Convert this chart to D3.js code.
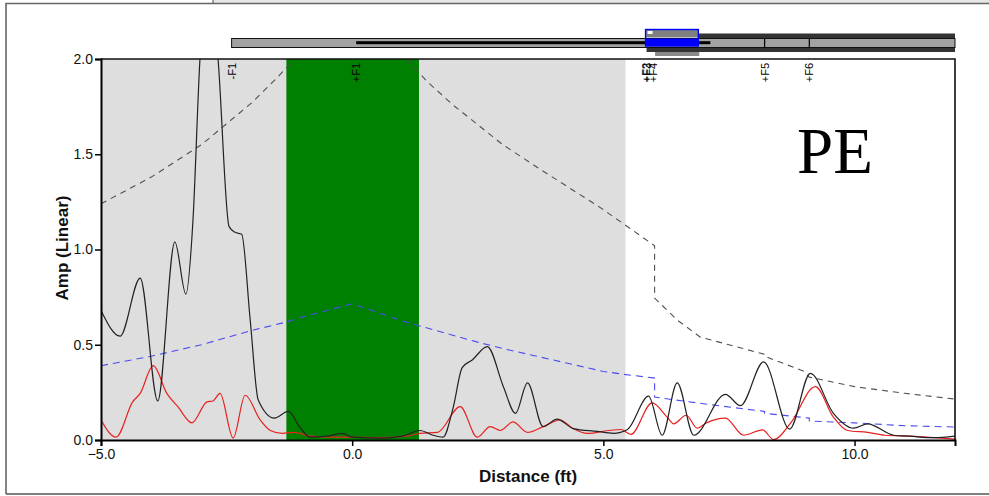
<!DOCTYPE html>
<html><head><meta charset="utf-8">
<script src="https://cdn.jsdelivr.net/npm/d3@7/dist/d3.min.js"></script>
<style>body{margin:0;background:#fff}svg{display:block}</style>
</head><body>
<svg id="c" width="989" height="496"></svg>
<script>
// ---- data ----
const xTicks = [-5, 0, 5, 10];
const yTicks = [0, 0.5, 1.0, 1.5, 2.0];
const grayZone = [-5, 5.44];
const greenZone = [-1.31, 1.33];
const markerNames = ["-F1", "+F1", "+F2", "+F3", "+F4", "+F5", "+F6"];
const markerPos   = [-2.40, 0.08, 5.84, 5.86, 5.98, 8.21, 9.10];

// upper envelope (gray dashed)
const envHiX = [-5.0,-4.0,-3.0,-2.0,-1.5,-1.0,-0.5,0.0,0.5,1.0,1.5,2.0,3.0,3.75,4.94,6.02,6.02,6.47,6.93,7.5,8.21,8.21,9.0,9.10,10.0,11.0,12.0];
const envHiY = [1.24,1.38,1.55,1.77,1.90,2.04,2.15,2.22,2.15,2.02,1.88,1.76,1.55,1.42,1.22,1.02,0.745,0.63,0.54,0.50,0.45,0.44,0.36,0.33,0.28,0.245,0.215];
// lower envelope (blue dashed)
const envLoX = [-5.0,-4.0,-3.0,-2.0,-1.3,-1.0,0.0,1.0,1.33,2.0,2.55,3.0,4.0,5.0,5.4,6.02,6.02,7.0,8.21,8.21,9.10,9.10,10.0,11.0,12.0];
const envLoY = [0.39,0.44,0.50,0.575,0.62,0.645,0.715,0.625,0.60,0.55,0.51,0.48,0.42,0.36,0.345,0.325,0.225,0.19,0.15,0.14,0.115,0.10,0.09,0.075,0.068];
// black signal
const sigAX = [-5.0,-4.62,-4.22,-3.87,-3.53,-3.31,-3.17,-3.03,-2.85,-2.67,-2.45,-2.33,-2.2,-2.03,-1.87,-1.55,-1.27,-1.05,-0.84,-0.5,-0.2,0.0,0.6,1.0,1.35,1.61,1.81,2.01,2.19,2.39,2.69,3.01,3.25,3.49,3.80,4.08,4.40,4.88,5.20,5.48,5.90,6.17,6.47,6.80,7.43,7.73,8.19,8.71,9.12,9.58,9.98,10.26,10.78,11.1,11.57,12.0];
const sigAY = [0.68,0.545,0.85,0.205,1.04,0.766,1.15,2.0,2.45,2.0,1.12,1.09,1.08,0.63,0.21,0.115,0.15,0.07,0.015,0.02,0.035,0.015,0.01,0.02,0.05,0.025,0.015,0.17,0.38,0.42,0.49,0.28,0.14,0.30,0.07,0.11,0.06,0.045,0.035,0.055,0.23,0.025,0.30,0.025,0.24,0.18,0.41,0.057,0.35,0.14,0.062,0.085,0.025,0.02,0.012,0.02];
// red signal
const sigBX = [-5.0,-4.7,-4.37,-4.22,-3.96,-3.69,-3.47,-3.19,-2.89,-2.77,-2.63,-2.37,-2.13,-1.83,-1.63,-1.39,-1.15,-0.84,-0.4,0.0,0.5,1.1,1.35,1.7,2.15,2.49,2.75,2.95,3.2,3.49,3.8,4.14,4.4,4.68,5.1,5.35,5.55,5.97,6.27,6.4,6.65,6.87,7.05,7.43,7.79,8.17,8.39,8.73,9.22,9.58,9.86,10.26,10.6,11.1,11.6,12.0];
const sigBY = [0.105,0.015,0.20,0.245,0.39,0.245,0.175,0.09,0.20,0.205,0.245,0.01,0.235,0.105,0.05,0.035,0.04,0.02,0.015,0.015,0.012,0.02,0.035,0.04,0.175,0.015,0.07,0.05,0.095,0.04,0.07,0.105,0.06,0.035,0.05,0.055,0.03,0.195,0.12,0.085,0.13,0.062,0.09,0.115,0.025,0.053,0.002,0.09,0.28,0.12,0.05,0.04,0.025,0.02,0.012,0.005];

// ---- chart ----
const svg = d3.select("#c");
const L = 101, R = 955, T = 59, B = 440;
const x = d3.scaleLinear().domain([-5, 12]).range([L, R]);
const y = d3.scaleLinear().domain([0, 2]).range([B, T]);
const zip = (xs, ys) => xs.map((v, i) => [v, ys[i]]);

// outer frame
svg.append("rect").attr("x", 213).attr("y", 0).attr("width", 776).attr("height", 3).attr("fill", "#e6e6e6");
svg.append("line").attr("x1", 213).attr("x2", 213).attr("y1", 0).attr("y2", 3).attr("stroke", "#666").attr("stroke-width", 1.2);
svg.append("path").attr("d", "M6,494 L6,3.5 L989,3.5").attr("fill", "none").attr("stroke", "#666").attr("stroke-width", 1.6);
svg.append("line").attr("x1", 6).attr("x2", 989).attr("y1", 494).attr("y2", 494).attr("stroke", "#555").attr("stroke-width", 1.6);

// top track
const trk = svg.append("g");
trk.append("rect").attr("x", x(6.89)).attr("y", 33.5).attr("width", x(12) - x(6.89)).attr("height", 4.5).attr("fill", "#333");
trk.append("rect").attr("x", x(5.86)).attr("y", 47.5).attr("width", x(12) - x(5.86)).attr("height", 4.5).attr("fill", "#333");
trk.append("rect").attr("x", x(6.03)).attr("y", 52).attr("width", x(6.91) - x(6.03)).attr("height", 4).attr("fill", "#8a8a8a");
trk.append("rect").attr("x", x(-2.40)).attr("y", 38.5).attr("width", x(12) - x(-2.40)).attr("height", 9).attr("fill", "#a2a2a2").attr("stroke", "#111").attr("stroke-width", 1);
trk.append("rect").attr("x", x(0.08)).attr("y", 41.2).attr("width", x(7.13) - x(0.08)).attr("height", 3).attr("fill", "#000");
[8.21, 9.10].forEach(p => trk.append("line").attr("x1", x(p)).attr("x2", x(p)).attr("y1", 38.5).attr("y2", 47.5).attr("stroke", "#000").attr("stroke-width", 1.2));
trk.append("rect").attr("x", x(5.84)).attr("y", 30).attr("width", x(6.89) - x(5.84)).attr("height", 7.5).attr("fill", "#808080");
trk.append("rect").attr("x", x(5.84)).attr("y", 38.5).attr("width", x(6.89) - x(5.84)).attr("height", 7.5).attr("fill", "#0000ff");
trk.append("rect").attr("x", x(5.88)).attr("y", 31).attr("width", 5).attr("height", 3).attr("fill", "#fff");
trk.append("rect").attr("x", x(5.84)).attr("y", 29.5).attr("width", x(6.89) - x(5.84)).attr("height", 16.5).attr("fill", "none").attr("stroke", "#0000ff").attr("stroke-width", 1.4);

// plot background
svg.append("clipPath").attr("id", "clip").append("rect").attr("x", L).attr("y", T).attr("width", R - L).attr("height", B - T);
const plot = svg.append("g").attr("clip-path", "url(#clip)");
plot.append("rect").attr("x", x(grayZone[0])).attr("y", T).attr("width", x(grayZone[1]) - x(grayZone[0])).attr("height", B - T).attr("fill", "#dedede");
plot.append("rect").attr("x", x(greenZone[0])).attr("y", T).attr("width", x(greenZone[1]) - x(greenZone[0])).attr("height", B - T).attr("fill", "#008000");

const lin = d3.line().x(d => x(d[0])).y(d => y(d[1]));
const smooth = d3.line().x(d => x(d[0])).y(d => y(d[1])).curve(d3.curveMonotoneX);

plot.append("path").attr("d", lin(zip(envHiX, envHiY))).attr("fill", "none").attr("stroke", "#505050").attr("stroke-width", 1.1).attr("stroke-dasharray", "6,5");
plot.append("path").attr("d", lin(zip(envLoX, envLoY))).attr("fill", "none").attr("stroke", "#4a4af0").attr("stroke-width", 1.1).attr("stroke-dasharray", "7,5");
plot.append("path").attr("d", smooth(zip(sigBX, sigBY))).attr("fill", "none").attr("stroke", "#e82020").attr("stroke-width", 1.2);
plot.append("path").attr("d", smooth(zip(sigAX, sigAY))).attr("fill", "none").attr("stroke", "#222").attr("stroke-width", 1.2);

// marker labels
markerNames.forEach((n, i) => {
  const px = x(markerPos[i]) + 4;
  svg.append("text").attr("transform", `translate(${px},${T + 4}) rotate(-90)`)
    .attr("text-anchor", "end").attr("font-family", "Liberation Sans, Arial, sans-serif")
    .attr("font-size", 11).attr("fill", "#000").text(n);
});

// frame top/right
svg.append("path").attr("d", `M${L},${T} L${R},${T} L${R},${B}`).attr("fill", "none").attr("stroke", "#111").attr("stroke-width", 1.6);

// axes
const ax = svg.append("g").attr("transform", `translate(0,${B})`)
  .call(d3.axisBottom(x).tickValues(xTicks).tickFormat(d3.format(".1f")).tickSize(6).tickPadding(3));
const ay = svg.append("g").attr("transform", `translate(${L},0)`)
  .call(d3.axisLeft(y).tickValues(yTicks).tickFormat(d3.format(".1f")).tickSize(6).tickPadding(2));
[ax, ay].forEach(g => {
  g.selectAll("path").attr("stroke", "#000").attr("stroke-width", 2);
  g.selectAll("line").attr("stroke", "#000").attr("stroke-width", 1.5);
  g.selectAll("text").attr("font-family", "Liberation Sans, Arial, sans-serif").attr("font-size", 14).attr("fill", "#111");
});

svg.append("text").attr("x", 528).attr("y", 482).attr("text-anchor", "middle")
  .attr("font-family", "Liberation Sans, Arial, sans-serif").attr("font-weight", "bold").attr("font-size", 17).attr("fill", "#111").text("Distance (ft)");
svg.append("text").attr("transform", "translate(68,248) rotate(-90)").attr("text-anchor", "middle")
  .attr("font-family", "Liberation Sans, Arial, sans-serif").attr("font-weight", "bold").attr("font-size", 17).attr("fill", "#111").text("Amp (Linear)");

svg.append("text").attr("x", 797).attr("y", 173).attr("font-family", "Liberation Serif, Times New Roman, serif")
  .attr("font-size", 65).attr("fill", "#000").text("PE");
</script>
</body></html>
